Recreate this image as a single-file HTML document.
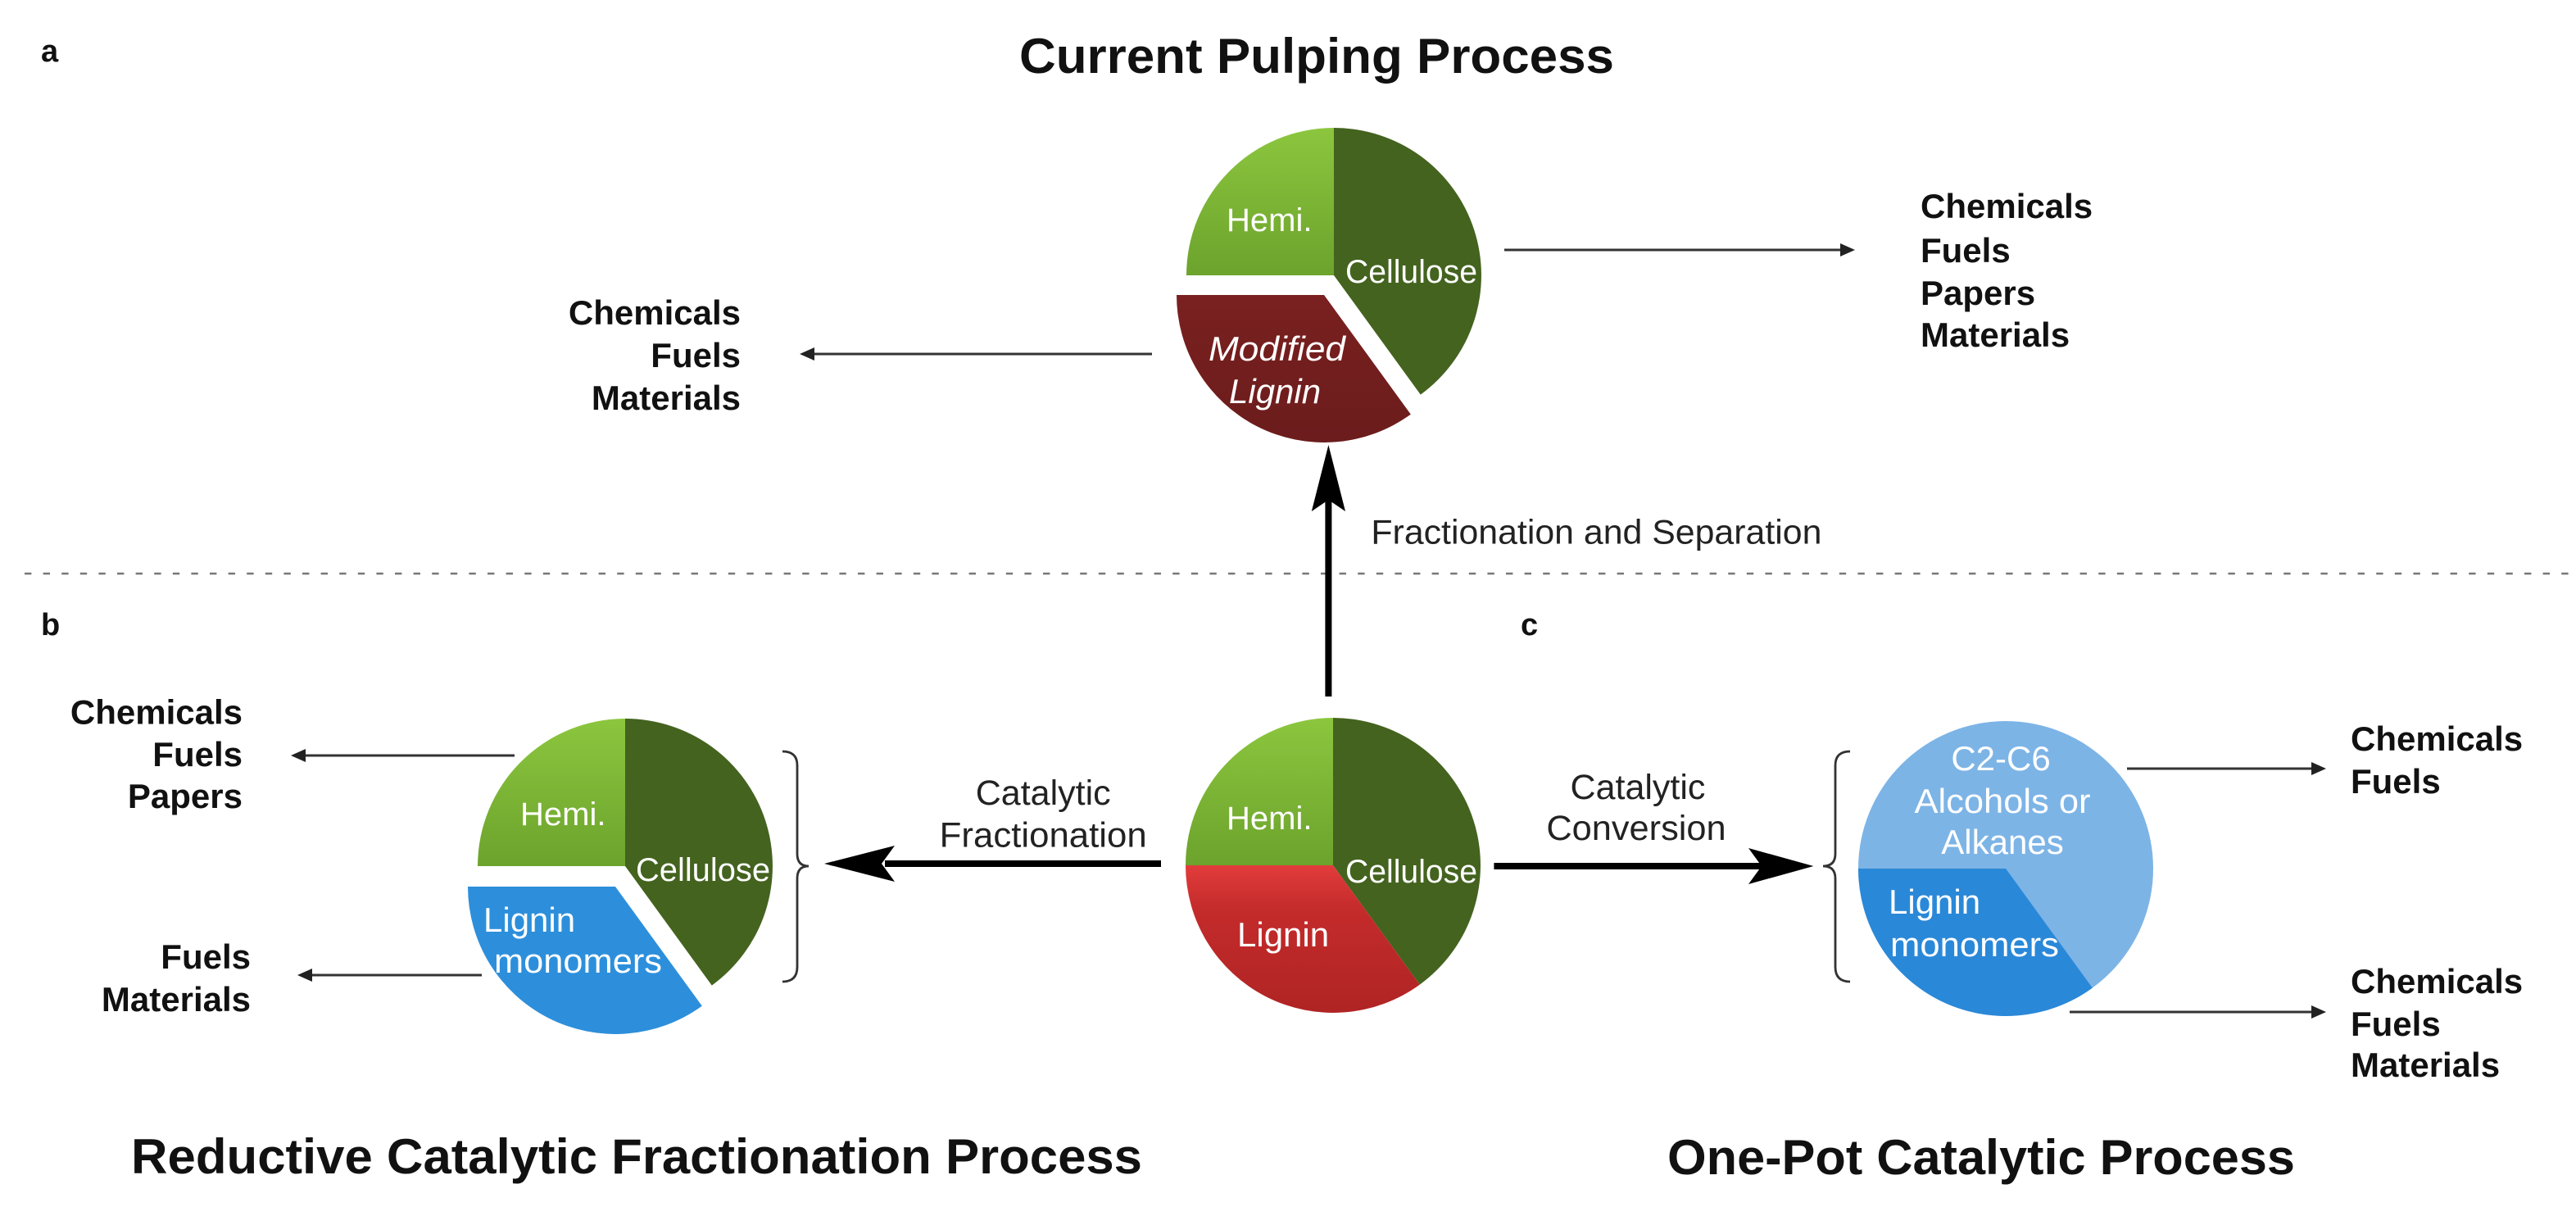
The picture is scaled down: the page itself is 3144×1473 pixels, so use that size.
<!DOCTYPE html>
<html>
<head>
<meta charset="utf-8">
<style>
html,body{margin:0;padding:0;background:#fff;}
svg{display:block;}
text{font-family:"Liberation Sans",Arial,sans-serif;}
.o{font-size:21px;font-weight:bold;fill:#111;}
.w{fill:#fff;font-size:20px;}
.l{font-size:21.5px;fill:#222;}
</style>
</head>
<body>
<svg width="3144" height="1473" viewBox="0 0 1572 736.5" xmlns="http://www.w3.org/2000/svg">
<defs>
<linearGradient id="hemi" x1="0" y1="0" x2="0" y2="1">
<stop offset="0" stop-color="#8cc63e"/><stop offset="1" stop-color="#6ca32d"/>
</linearGradient>
<linearGradient id="red" x1="0" y1="0" x2="0" y2="1">
<stop offset="0" stop-color="#e23c3c"/><stop offset="0.3" stop-color="#c42b2b"/><stop offset="1" stop-color="#b02424"/>
</linearGradient>
<linearGradient id="mod" x1="0" y1="0" x2="0" y2="1">
<stop offset="0" stop-color="#7a2020"/><stop offset="1" stop-color="#6b1c1c"/>
</linearGradient>
</defs>
<rect width="1572" height="736.5" fill="#fff"/>

<!-- labels a b c -->
<text x="25" y="37.5" style="font-size:19px;font-weight:bold" fill="#111">a</text>
<text x="25" y="387.5" style="font-size:19px;font-weight:bold" fill="#111">b</text>
<text x="928" y="387.5" style="font-size:19px;font-weight:bold" fill="#111">c</text>

<!-- titles -->
<text x="622" y="44.6" style="font-size:30px;font-weight:bold" fill="#111" textLength="363" lengthAdjust="spacingAndGlyphs">Current Pulping Process</text>
<text x="80" y="716" style="font-size:30px;font-weight:bold" fill="#111" textLength="617" lengthAdjust="spacingAndGlyphs">Reductive Catalytic Fractionation Process</text>
<text x="1017.5" y="716.5" style="font-size:30px;font-weight:bold" fill="#111" textLength="383" lengthAdjust="spacingAndGlyphs">One-Pot Catalytic Process</text>

<!-- dashed separator -->
<line x1="15" y1="350" x2="1568" y2="350" stroke="#777" stroke-width="1.3" stroke-dasharray="4.2 7.1"/>

<!-- TOP PIE (a) center 814,168 -->
<path d="M814,168 L814,78 A90,90 0 0 1 866.9,240.8 Z" fill="#44631f"/>
<path d="M814,168 L724,168 A90,90 0 0 1 814,78 Z" fill="url(#hemi)"/>
<path d="M808,180 L860.9,252.8 A90,90 0 0 1 718,180 Z" fill="url(#mod)"/>
<text x="748.5" y="141" class="w">Hemi.</text>
<text x="821" y="172.5" class="w" textLength="80.5" lengthAdjust="spacingAndGlyphs">Cellulose</text>
<text x="737.5" y="220" class="w" style="font-style:italic;font-size:21px" textLength="83.5" lengthAdjust="spacingAndGlyphs">Modified</text>
<text x="750" y="246" class="w" style="font-style:italic;font-size:21px">Lignin</text>

<!-- top arrows -->
<line x1="918" y1="152.5" x2="1124" y2="152.5" stroke="#333" stroke-width="1.5"/>
<path d="M1132,152.5 L1123,148.5 L1123,156.5 Z" fill="#222"/>
<text x="1172" y="133" class="o">Chemicals</text>
<text x="1172" y="160" class="o">Fuels</text>
<text x="1172" y="186" class="o">Papers</text>
<text x="1172" y="211.6" class="o">Materials</text>

<line x1="703" y1="216" x2="496" y2="216" stroke="#333" stroke-width="1.5"/>
<path d="M488,216 L497,212 L497,220 Z" fill="#222"/>
<text x="452" y="198" class="o" text-anchor="end">Chemicals</text>
<text x="452" y="224" class="o" text-anchor="end">Fuels</text>
<text x="452" y="250" class="o" text-anchor="end">Materials</text>

<!-- vertical big arrow -->
<line x1="810.7" y1="425" x2="810.7" y2="305" stroke="#000" stroke-width="4"/>
<path d="M810.7,271.5 L821,312 L810.7,305 L800.4,312 Z" fill="#000"/>
<text x="836.7" y="331.7" class="l" style="font-size:21px" textLength="275" lengthAdjust="spacingAndGlyphs">Fractionation and Separation</text>

<!-- CENTER PIE 813.5,528 -->
<path d="M813.5,528 L813.5,438 A90,90 0 0 1 866.4,600.8 Z" fill="#44631f"/>
<path d="M813.5,528 L866.4,600.8 A90,90 0 0 1 723.5,528 Z" fill="url(#red)"/>
<path d="M813.5,528 L723.5,528 A90,90 0 0 1 813.5,438 Z" fill="url(#hemi)"/>
<text x="748.5" y="506" class="w">Hemi.</text>
<text x="821" y="538.5" class="w" textLength="80.5" lengthAdjust="spacingAndGlyphs">Cellulose</text>
<text x="755" y="577.5" class="w" style="font-size:21px">Lignin</text>

<!-- left big arrow -->
<line x1="708.5" y1="527" x2="540" y2="527" stroke="#000" stroke-width="4"/>
<path d="M503,527 L546,516 L538,527 L546,538 Z" fill="#000"/>
<text x="636.6" y="491" class="l" text-anchor="middle">Catalytic</text>
<text x="636.6" y="516.7" class="l" text-anchor="middle" textLength="126.5" lengthAdjust="spacingAndGlyphs">Fractionation</text>

<!-- right big arrow -->
<line x1="911.7" y1="528.5" x2="1075" y2="528.5" stroke="#000" stroke-width="4"/>
<path d="M1106.7,528.5 L1067,517.5 L1075,528.5 L1067,539.5 Z" fill="#000"/>
<text x="999.5" y="487.5" class="l" text-anchor="middle">Catalytic</text>
<text x="998.5" y="512.6" class="l" text-anchor="middle" textLength="109.6" lengthAdjust="spacingAndGlyphs">Conversion</text>

<!-- LEFT PIE (b) 381.5,528.5 -->
<path d="M381.5,528.5 L381.5,438.5 A90,90 0 0 1 434.4,601.3 Z" fill="#44631f"/>
<path d="M381.5,528.5 L291.5,528.5 A90,90 0 0 1 381.5,438.5 Z" fill="url(#hemi)"/>
<path d="M375.5,541 L428.4,613.8 A90,90 0 0 1 285.5,541 Z" fill="#2d8fdb"/>
<text x="317.5" y="503.5" class="w">Hemi.</text>
<text x="388" y="537.5" class="w" textLength="82" lengthAdjust="spacingAndGlyphs">Cellulose</text>
<text x="295" y="568.5" class="w" style="font-size:21px">Lignin</text>
<text x="301.5" y="593.5" class="w" style="font-size:21px" textLength="102.5" lengthAdjust="spacingAndGlyphs">monomers</text>
<!-- brace b -->
<path d="M477.5,458.5 Q486.5,458.5 486.5,467 L486.5,521 Q486.5,528.5 493.5,528.5 Q486.5,528.5 486.5,536 L486.5,590 Q486.5,599 477.5,599" fill="none" stroke="#333" stroke-width="1.4"/>

<!-- b outputs -->
<line x1="314" y1="461" x2="186" y2="461" stroke="#333" stroke-width="1.5"/>
<path d="M177.5,461 L186.5,457 L186.5,465 Z" fill="#222"/>
<text x="148" y="441.7" class="o" text-anchor="end">Chemicals</text>
<text x="148" y="467.5" class="o" text-anchor="end">Fuels</text>
<text x="148" y="493" class="o" text-anchor="end">Papers</text>
<line x1="294" y1="595" x2="190" y2="595" stroke="#333" stroke-width="1.5"/>
<path d="M181.5,595 L190.5,591 L190.5,599 Z" fill="#222"/>
<text x="153" y="591" class="o" text-anchor="end">Fuels</text>
<text x="153" y="617" class="o" text-anchor="end">Materials</text>

<!-- RIGHT PIE (c) 1224,530 -->
<circle cx="1224" cy="530" r="90" fill="#7db4e6"/>
<path d="M1224,530 L1276.9,602.8 A90,90 0 0 1 1134,530 Z" fill="#2a88d8"/>
<text x="1221" y="470" class="w" text-anchor="middle" style="font-size:21px">C2-C6</text>
<text x="1222" y="496" class="w" text-anchor="middle" style="font-size:21px" textLength="107.5" lengthAdjust="spacingAndGlyphs">Alcohols or</text>
<text x="1222" y="521" class="w" text-anchor="middle" style="font-size:21px">Alkanes</text>
<text x="1152.5" y="557.5" class="w" style="font-size:21px">Lignin</text>
<text x="1153.5" y="583.5" class="w" style="font-size:21px" textLength="103" lengthAdjust="spacingAndGlyphs">monomers</text>
<!-- brace c -->
<path d="M1129,458.5 Q1120,458.5 1120,467 L1120,521 Q1120,528.5 1112.5,528.5 Q1120,528.5 1120,536 L1120,590 Q1120,599 1129,599" fill="none" stroke="#333" stroke-width="1.4"/>

<!-- c outputs -->
<line x1="1298" y1="469" x2="1411" y2="469" stroke="#333" stroke-width="1.5"/>
<path d="M1419.5,469 L1410.5,465 L1410.5,473 Z" fill="#222"/>
<text x="1434.5" y="458" class="o">Chemicals</text>
<text x="1434.5" y="484" class="o">Fuels</text>
<line x1="1263" y1="617.5" x2="1411" y2="617.5" stroke="#333" stroke-width="1.5"/>
<path d="M1419.5,617.5 L1410.5,613.5 L1410.5,621.5 Z" fill="#222"/>
<text x="1434.5" y="606" class="o">Chemicals</text>
<text x="1434.5" y="632" class="o">Fuels</text>
<text x="1434.5" y="657" class="o">Materials</text>
</svg>
</body>
</html>
